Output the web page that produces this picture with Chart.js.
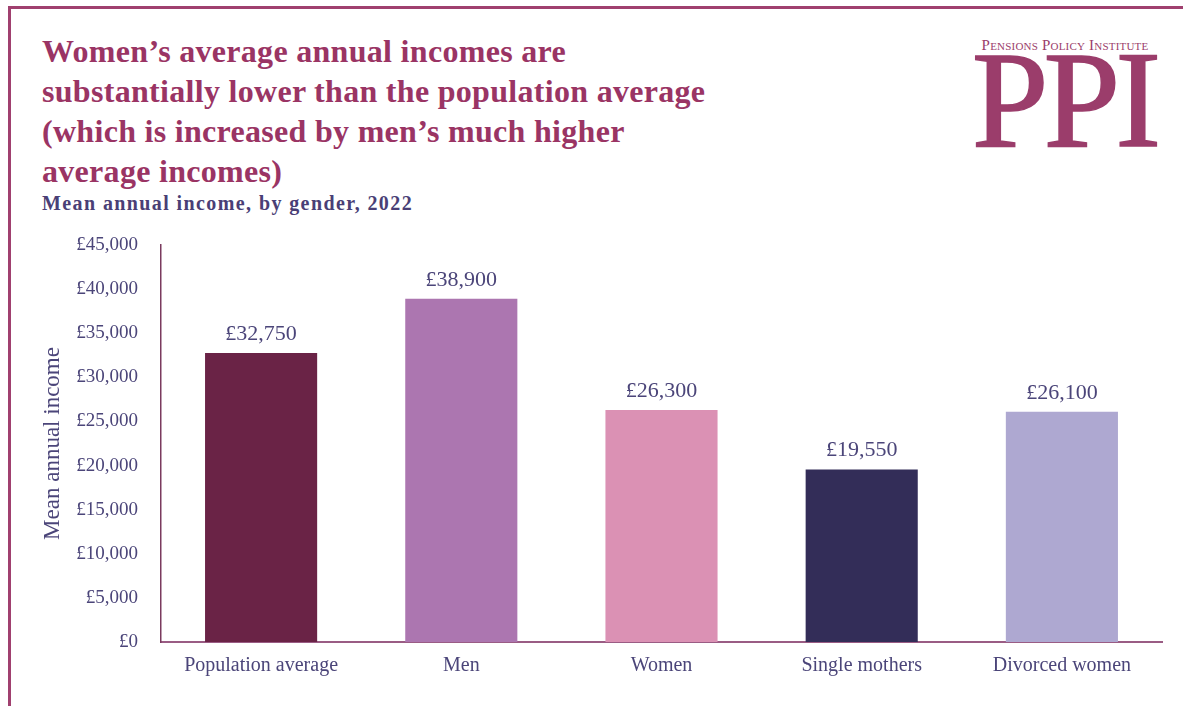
<!DOCTYPE html>
<html>
<head>
<meta charset="utf-8">
<script src="https://cdn.jsdelivr.net/npm/chart.js@4"></script>
<style>
  html, body { margin: 0; padding: 0; background: #fff; }
  #page { position: relative; width: 1183px; height: 706px; overflow: hidden; }
  #frame { position: absolute; left: 8px; top: 6px; right: -10px; bottom: -10px;
           border-top: 3px solid #a0406f; border-left: 3px solid #a0406f; }
  #title { position: absolute; left: 42px; top: 31px; margin: 0;
           font: bold 32px "Liberation Serif", serif; line-height: 40px; color: #9a3464; letter-spacing: 0.3px; }
  #subtitle { position: absolute; left: 42px; top: 192px;
              font: bold 20px "Liberation Serif", serif; color: #4a3f76; letter-spacing: 1.4px; }
  #logo-top { position: absolute; left: 968px; top: 37px; width: 194px; text-align: center;
              font: 15px "Liberation Serif", serif; font-variant: small-caps; color: #9b3d6b; letter-spacing: 0.2px; }
  #logo { position: absolute; left: 962px; top: 25px; width: 204px; text-align: center;
          font: 138px "Liberation Serif", serif; color: #9b3d6b; line-height: 150px; letter-spacing: -5px;
          -webkit-text-stroke: 1.5px #9b3d6b; }
  canvas { position: absolute; left: 0; top: 0; }
</style>
</head>
<body>
<div id="page">
  <div id="frame"></div>
  <h1 id="title">Women’s average annual incomes are<br>substantially lower than the population average<br>(which is increased by men’s much higher<br>average incomes)</h1>
  <div id="subtitle">Mean annual income, by gender, 2022</div>
  <div id="logo-top">Pensions Policy Institute</div>
  <div id="logo">PPI</div>
  <canvas id="incomeChart" width="1183" height="706"></canvas>
</div>
<script>
const groups = ['Population average', 'Men', 'Women', 'Single mothers', 'Divorced women'];
const meanIncome = [32750, 38900, 26300, 19550, 26100];
const barColours = ['#6a2346', '#ac76b0', '#db91b4', '#332d58', '#aea8d1'];
const yTicks = [0, 5000, 10000, 15000, 20000, 25000, 30000, 35000, 40000, 45000];

const inkBlue = '#4b4579';
const serif = '"Liberation Serif", serif';

const pounds = v => '£' + v.toLocaleString('en-GB');

// value labels above each bar
const barValues = {
  id: 'barValues',
  afterDatasetsDraw(chart) {
    const { ctx } = chart;
    const meta = chart.getDatasetMeta(0);
    ctx.save();
    ctx.font = '22px ' + serif;
    ctx.fillStyle = inkBlue;
    ctx.textAlign = 'center';
    ctx.textBaseline = 'bottom';
    meta.data.forEach((bar, i) => {
      ctx.fillText(pounds(chart.data.datasets[0].data[i]), bar.x, bar.y - 8);
    });
    ctx.restore();
  }
};

new Chart(document.getElementById('incomeChart'), {
  type: 'bar',
  data: {
    labels: groups,
    datasets: [{
      data: meanIncome,
      backgroundColor: barColours,
      categoryPercentage: 1,
      barPercentage: 0.56
    }]
  },
  options: {
    responsive: false,
    animation: false,
    layout: { padding: { left: 30, right: 21, top: 245, bottom: 0 } },
    plugins: {
      legend: { display: false },
      tooltip: { enabled: false }
    },
    scales: {
      x: {
        grid: { display: false, drawTicks: false },
        border: { color: '#9a5c84', width: 2 },
        ticks: { color: inkBlue, font: { family: serif, size: 20 }, padding: 12 },
        afterFit(scale) { scale.height = 64; }
      },
      y: {
        min: 0,
        max: 45000,
        afterBuildTicks(scale) { scale.ticks = yTicks.map(v => ({ value: v })); },
        grid: { display: false, drawTicks: false },
        border: { color: '#7a3a5e', width: 1.5 },
        ticks: { color: inkBlue, font: { family: serif, size: 19 }, padding: 23, callback: v => pounds(v) },
        title: { display: true, text: 'Mean annual income', color: inkBlue,
                 font: { family: serif, size: 23 }, padding: { top: 9, bottom: 0 } },
        afterFit(scale) { scale.width = 131; }
      }
    }
  },
  plugins: [barValues]
});
</script>
</body>
</html>
